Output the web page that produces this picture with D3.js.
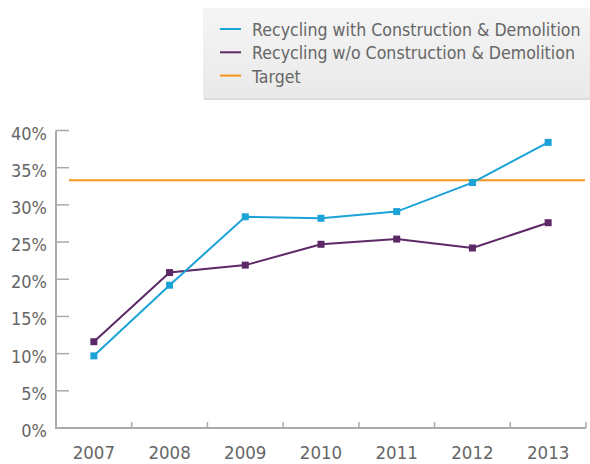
<!DOCTYPE html>
<html>
<head>
<meta charset="utf-8">
<script src="https://cdn.jsdelivr.net/npm/d3@7"></script>
<style>
  body { margin: 0; background: #fff; }
  svg text { font-family: "DejaVu Sans Condensed", "Liberation Sans Narrow", "Roboto", sans-serif; fill: #666; }
</style>
</head>
<body>
<svg id="chart"></svg>
<script>
var years = ['2007', '2008', '2009', '2010', '2011', '2012', '2013'];
var withCD = [9.7, 19.2, 28.4, 28.2, 29.1, 33.0, 38.4];
var withoutCD = [11.6, 20.9, 21.9, 24.7, 25.4, 24.2, 27.6];
var target = 33.3;
var yTicks = [0, 5, 10, 15, 20, 25, 30, 35, 40];
var seriesNames = ['Recycling with Construction & Demolition', 'Recycling w/o Construction & Demolition', 'Target'];
var seriesColors = ['#1ba3d8', '#5c2866', '#f7941d'];

var width = 590, height = 464;
var svg = d3.select('#chart').attr('width', width).attr('height', height);

var x = d3.scaleBand().domain(years).range([56, 586]);
var y = d3.scaleLinear().domain([0, 40]).range([428, 130.5]);

// legend box
var defs = svg.append('defs');
var grad = defs.append('linearGradient').attr('id', 'lg').attr('x1', 0).attr('y1', 0).attr('x2', 0).attr('y2', 1);
grad.append('stop').attr('offset', '0%').attr('stop-color', '#f5f5f5');
grad.append('stop').attr('offset', '100%').attr('stop-color', '#e9e9e9');
svg.append('rect').attr('x', 204).attr('y', 9).attr('width', 390).attr('height', 91).attr('fill', '#dcdcdc');
svg.append('rect').attr('x', 203).attr('y', 8).attr('width', 390).attr('height', 90).attr('fill', 'url(#lg)');

var legend = svg.append('g');
seriesNames.forEach(function(name, i) {
    var ly = 29 + i * 23.3;
    legend.append('line')
        .attr('x1', 220).attr('x2', 241)
        .attr('y1', ly).attr('y2', ly)
        .attr('stroke', seriesColors[i]).attr('stroke-width', 2);
    legend.append('text')
        .attr('x', 252).attr('y', ly + 7)
        .style('font-size', '17.6px')
        .text(name);
});

// axes
var axisColor = '#aaa';
svg.append('line').attr('x1', 56).attr('x2', 56).attr('y1', y(40)).attr('y2', y(0) + 1)
    .attr('stroke', axisColor).attr('stroke-width', 2);
svg.append('line').attr('x1', 55).attr('x2', 586).attr('y1', y(0)).attr('y2', y(0))
    .attr('stroke', axisColor).attr('stroke-width', 2);

svg.selectAll('.ytick').data(yTicks).enter().append('line')
    .attr('x1', 56).attr('x2', 69)
    .attr('y1', function(d) { return y(d); }).attr('y2', function(d) { return y(d); })
    .attr('stroke', axisColor).attr('stroke-width', 1.5);
svg.selectAll('.ylab').data(yTicks).enter().append('text')
    .attr('x', 47).attr('y', function(d) { return y(d) + 9; })
    .attr('text-anchor', 'end')
    .style('font-size', '18px')
    .text(function(d) { return d + '%'; });

var bounds = years.map(function(d) { return x(d) + x.bandwidth(); });
svg.selectAll('.xtick').data(bounds).enter().append('line')
    .attr('x1', function(d) { return d; }).attr('x2', function(d) { return d; })
    .attr('y1', y(0)).attr('y2', y(0) - 6)
    .attr('stroke', axisColor).attr('stroke-width', 1.5);
svg.selectAll('.xlab').data(years).enter().append('text')
    .attr('x', function(d) { return x(d) + x.bandwidth() / 2; })
    .attr('y', 459)
    .attr('text-anchor', 'middle')
    .style('font-size', '18.5px')
    .text(function(d) { return d; });

// target line
svg.append('line')
    .attr('x1', 69).attr('x2', 585)
    .attr('y1', y(target)).attr('y2', y(target))
    .attr('stroke', seriesColors[2]).attr('stroke-width', 2);

// series
function drawSeries(vals, color) {
    var pts = vals.map(function(v, i) { return [x(years[i]) + x.bandwidth() / 2, y(v)]; });
    svg.append('path')
        .attr('d', d3.line()(pts))
        .attr('fill', 'none')
        .attr('stroke', color).attr('stroke-width', 2);
    svg.selectAll(null).data(pts).enter().append('rect')
        .attr('x', function(d) { return d[0] - 3.5; })
        .attr('y', function(d) { return d[1] - 3.5; })
        .attr('width', 7).attr('height', 7)
        .attr('fill', color);
}
drawSeries(withoutCD, seriesColors[1]);
drawSeries(withCD, seriesColors[0]);
</script>
</body>
</html>
